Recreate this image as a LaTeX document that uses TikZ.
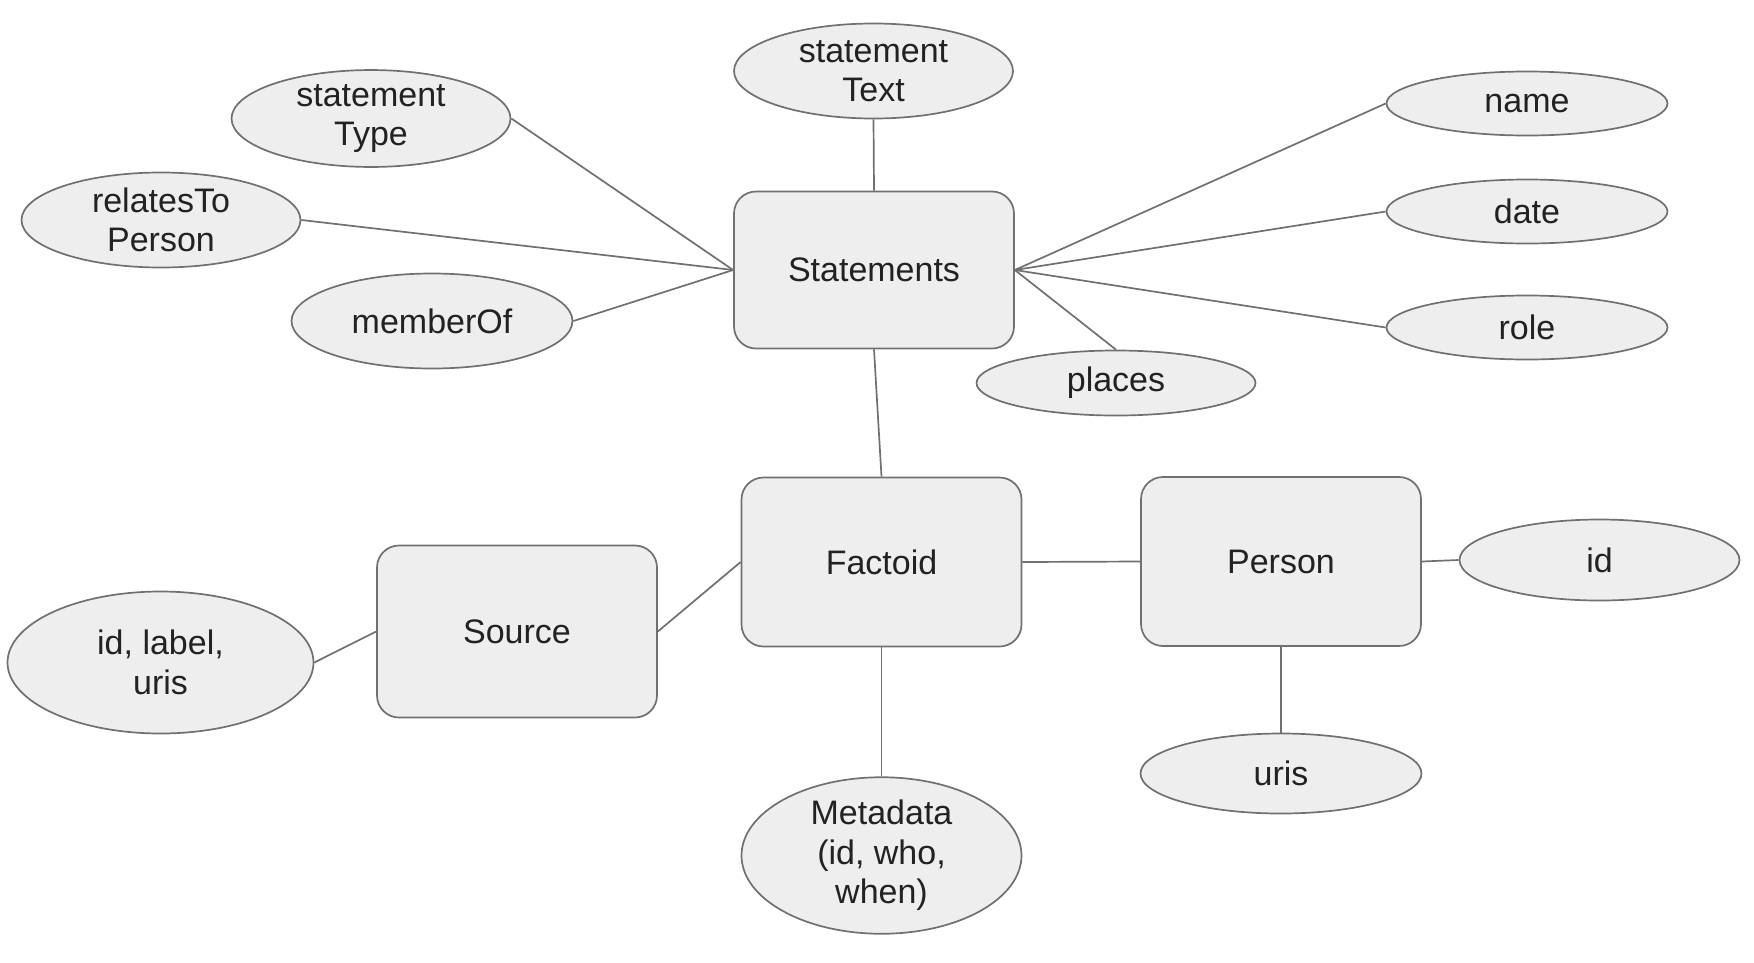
\documentclass[tikz,border=0pt]{standalone}
\usepackage{fontspec}
\setmainfont{Liberation Sans}
\usetikzlibrary{shapes.geometric}
\definecolor{fillg}{HTML}{EEEEEE}
\definecolor{lineg}{HTML}{707070}
\definecolor{txt}{HTML}{222222}
\begin{document}
\begin{tikzpicture}[x=1pt,y=-1pt,
  every node/.style={font=\fontsize{34}{39.5}\selectfont, text=txt, align=center, inner sep=0pt},
  entity/.style={draw=lineg, line width=1.7pt, fill=fillg, rectangle, rounded corners=22pt, minimum width=280pt, minimum height=#1},
  attr/.style 2 args={draw=lineg, line width=1.7pt, fill=fillg, ellipse, minimum width=#1, minimum height=#2},
  link/.style={draw=lineg, line width=1.7pt}]
\useasboundingbox (0,0) rectangle (1754,962);
% entities
\node[entity=157pt] (st) at (874,270) {Statements};
\node[entity=169pt] (fa) at (881.5,562) {Factoid};
\node[entity=169pt] (pe) at (1281,561.5) {Person};
\node[entity=172pt] (so) at (517,631.5) {Source};
% attributes
\node[attr={279pt}{95pt}] (sx) at (873.5,71) {statement\\Text};
\node[attr={279pt}{94pt}] (sty) at (371,118.5) {statement\\Type};
\node[attr={279pt}{95pt}] (rel) at (161,220) {relatesTo\\Person};
\node[attr={281pt}{95pt}] (mem) at (432,321) {memberOf};
\node[attr={281pt}{64pt}] (nm) at (1527,103.5) {name};
\node[attr={281pt}{64pt}] (dt) at (1527,211.5) {date};
\node[attr={281pt}{64pt}] (ro) at (1527,327.5) {role};
\node[attr={279pt}{65pt}] (pl) at (1116,383) {places};
\node[attr={306pt}{142pt}] (idl) at (160.5,662.5) {id, label,\\uris};
\node[attr={280pt}{81pt}] (pid) at (1599.5,560) {id};
\node[attr={281pt}{80pt}] (pur) at (1281,773.5) {uris};
\node[attr={280pt}{142pt}] (md) at (881.5,855.5) {Metadata\\(id, who,\\when)};
% connectors
\begin{scope}[on background layer/.style={}]
\draw[link] (sx.south) -- (st.north);
\draw[link] (sty.east) -- (st.west);
\draw[link] (rel.east) -- (st.west);
\draw[link] (mem.east) -- (st.west);
\draw[link] (st.east) -- (nm.west);
\draw[link] (st.east) -- (dt.west);
\draw[link] (st.east) -- (ro.west);
\draw[link] (st.east) -- (pl.north);
\draw[link] (st.south) -- (fa.north);
\draw[link] (so.east) -- (fa.west);
\draw[link] (idl.east) -- (so.west);
\draw[link] (fa.east) -- (pe.west);
\draw[link] (pe.east) -- (pid.west);
\draw[link] (pe.south) -- (pur.north);
\draw[link] (fa.south) -- (md.north);
\end{scope}
\end{tikzpicture}
\end{document}
